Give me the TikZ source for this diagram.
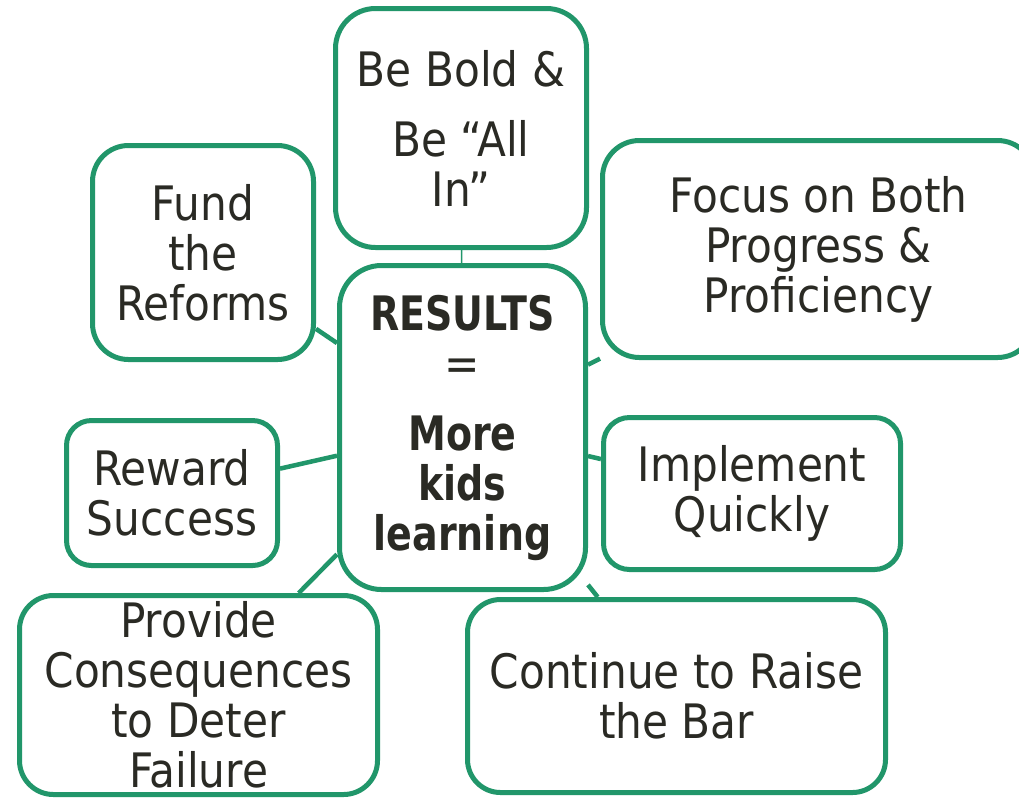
\documentclass[tikz,border=0pt]{standalone}
\usepackage{fontspec}
\setmainfont{DejaVu Sans}[FakeStretch=0.89,BoldFeatures={FakeStretch=0.8}]
\usetikzlibrary{positioning}
\definecolor{boxgreen}{RGB}{33,150,106}
\definecolor{inkgrey}{RGB}{42,42,36}

\begin{document}
\begin{tikzpicture}[x=0.75pt,y=-0.75pt,
  idea/.style={draw=boxgreen,line width=3.75pt,fill=white,align=center,text=inkgrey,
    inner sep=0pt,font=\fontsize{35.6pt}{37.5pt}\selectfont},
  link/.style={draw=boxgreen,line width=3.4pt},
  thinlink/.style={draw=boxgreen,line width=1.2pt}]
  % page frame
  \clip (0,0) rectangle (1019,797);
  \fill[white] (0,0) rectangle (1019,797);
  % hub
  \node[idea,minimum width=184.5pt,minimum height=243pt,rounded corners=31.5pt] (results) at (462.5,427.5)
    {\textbf{RESULTS}\\=\\[15pt]\textbf{More}\\\textbf{kids}\\\textbf{learning}};
  % surrounding ideas
  \node[idea,minimum width=188.25pt,minimum height=179.25pt,rounded corners=30pt] (bebold) at (461,128)
    {Be Bold \&\\[15pt]Be “All\\In”};
  \node[idea,minimum width=165.75pt,minimum height=160.5pt,rounded corners=27pt] (fund) at (203,252.5)
    {Fund\\the\\Reforms};
  \node[idea,minimum width=324pt,minimum height=162.75pt,rounded corners=27.75pt] (focus) at (818.5,249)
    {Focus on Both\\Progress \&\\Proficiency};
  \node[idea,minimum width=222.75pt,minimum height=114pt,rounded corners=19.5pt] (implement) at (752,493.5)
    {Implement\\Quickly};
  \node[idea,minimum width=158.25pt,minimum height=108.75pt,rounded corners=18.75pt] (reward) at (172,493)
    {Reward\\Success};
  \node[idea,minimum width=268.5pt,minimum height=149.25pt,rounded corners=25.5pt] (provide) at (198.5,695)
    {Provide\\Consequences\\to Deter\\Failure};
  \node[idea,minimum width=313.5pt,minimum height=144.75pt,rounded corners=24.75pt] (raise) at (676.5,696)
    {Continue to Raise\\the Bar};
  % spokes
  \draw[thinlink] (bebold) -- (results);
  \draw[link] (fund) -- (results);
  \draw[link] (focus) -- (results);
  \draw[link] (implement) -- (results);
  \draw[link] (reward) -- (results);
  \draw[link] (provide) -- (results);
  \draw[link] (raise) -- (results);
\end{tikzpicture}
\end{document}
